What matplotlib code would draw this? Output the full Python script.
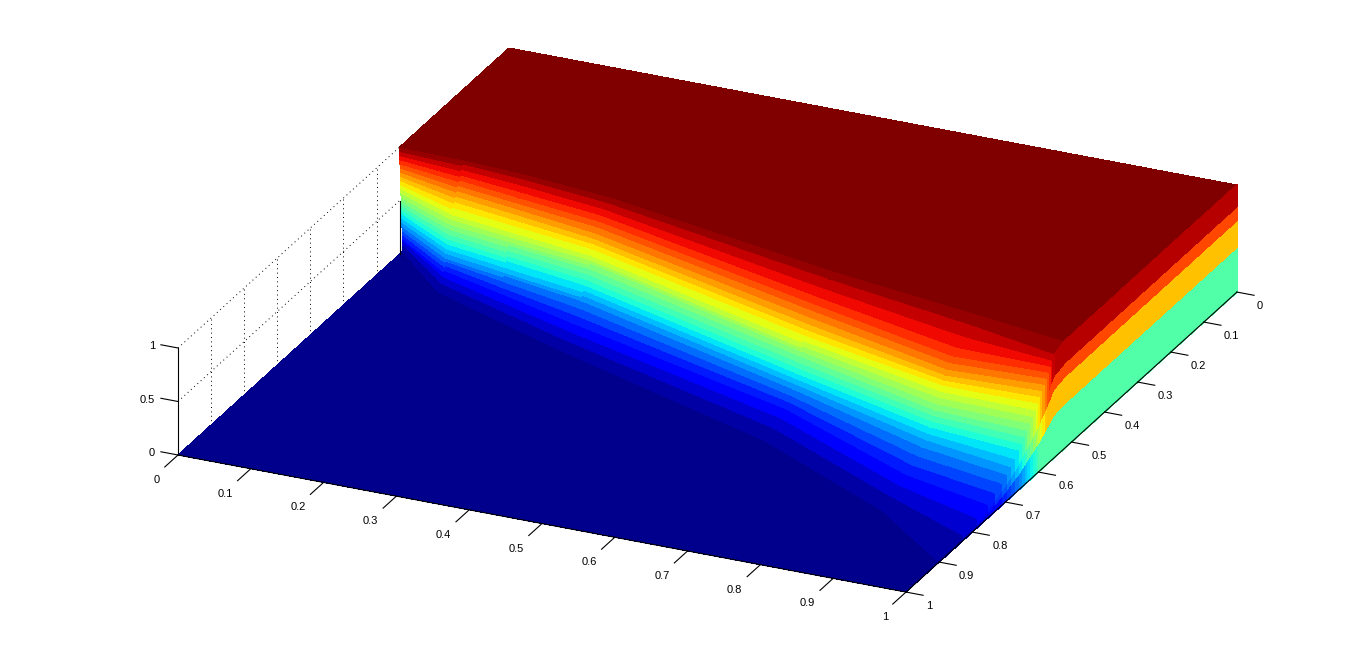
import numpy as np
import matplotlib
matplotlib.use("Agg")
import matplotlib.pyplot as plt
from mpl_toolkits.mplot3d import proj3d

plt.rcParams['font.family'] = ['Liberation Sans', 'DejaVu Sans']

# heights of the contour rows, and the y position of each one read at several x stations
levels = [0, .04, .08, .12, .16, .2, .24, .28, .32, .36, .4, .44, .48,
          .52, .56, .6, .64, .68, .72, .76, .8, .84, .88, .92, .96, 1]
stations = [0, .09, .18, .3, .65, .87, 1]
y_x000 = [.320, .3204, .3208, .3212, .3216, .322, .3224, .3228, .3232, .3236, .324, .3244, .3248,
          .3252, .3256, .326, .3264, .3268, .3272, .3276, .328, .3284, .3288, .3292, .3296, .33]
y_x009 = [.413, .405, .398, .392, .39, .389, .388, .386, .385, .383, .381, .379, .377,
          .375, .372, .37, .367, .362, .358, .354, .351, .347, .344, .34, .336, .332]
y_x018 = [.455, .444, .434, .425, .42, .415, .41, .408, .406, .403, .401, .398, .395,
          .392, .39, .388, .385, .381, .377, .373, .369, .365, .36, .353, .347, .34]
y_x030 = [.51, .496, .482, .47, .459, .449, .44, .436, .433, .43, .426, .422, .418,
          .414, .412, .411, .409, .406, .403, .399, .393, .388, .382, .375, .367, .358]
y_x065 = [.655, .632, .612, .596, .587, .58, .573, .569, .566, .563, .559, .555, .55,
          .547, .544, .541, .537, .532, .527, .52, .512, .505, .495, .48, .463, .447]
y_x087 = [.786, .76, .736, .715, .697, .681, .666, .656, .649, .642, .637, .632, .628,
          .622, .615, .609, .603, .60, .597, .592, .584, .576, .562, .54, .516, .492]
y_x100 = [.90, .83, .787, .755, .732, .713, .698, .686, .674, .66, .652, .644, .636,
          .627, .619, .611, .603, .596, .59, .583, .577, .571, .565, .56, .553, .52]

# bands of the wall at x = 1: share of the local height, colour cap and colour slope
wall_fracs = [0, .42, .67, .8, 1]
wall_caps = [.44, .70, .83, .95]
wall_slopes = [.66, .89, 1, 1]

x_ticks = [0, .1, .2, .3, .4, .5, .6, .7, .8, .9, 1]
y_ticks = [0, .1, .2, .3, .4, .5, .6, .7, .8, .9, 1]
z_ticks = [0, .5, 1]
grid_y = [.4, .5, .6, .7, .8, .9]

W, H = 1366, 664
fig = plt.figure(figsize=(W / 100, H / 100), dpi=100, facecolor='white')
side = W / H
ax = fig.add_axes([0, (1 - side) / 2, 1, side], projection='3d', computed_zorder=False)
ax.set_proj_type('ortho')
ax.view_init(elev=24.4, azim=-65.5)
ax.set_xlim(0, 1)
ax.set_ylim(1, 0)
ax.set_zlim(0, 1)
ax.set_axis_off()
ax.set_box_aspect((800, 798, 117.5), zoom=1)


def to_pixels(px, py, pz):
    a, b, _ = proj3d.proj_transform(px, py, pz, ax.get_proj())
    return ax.transData.transform((a, b))


def jet_at(v):
    # matlab's jet starts a little brighter than matplotlib's
    return plt.get_cmap('jet')(.014 + .986 * np.asarray(v))


# fit the box on the pixel corners of the reference
fig.canvas.draw()
p0 = to_pixels(0, 1, 0)
p1 = to_pixels(1, 1, 0)
ax.set_box_aspect((800, 798, 117.5), zoom=728 / (p1[0] - p0[0]))
fig.canvas.draw()
p0 = to_pixels(0, 1, 0)
pos = ax.get_position(original=True)
ax.set_position([pos.x0 + (178 - p0[0]) / W, pos.y0 + ((H - 455) - p0[1]) / H, pos.width, pos.height])
fig.canvas.draw()

table = np.array([y_x000, y_x009, y_x018, y_x030, y_x065, y_x087, y_x100]).T
xs = np.array(stations)
zs = np.array(levels)
X = np.tile(xs, (len(zs), 1))
Z = np.tile(zs[:, None], (1, len(xs)))

# floor
fy = np.vstack([table[0], np.ones(len(xs))])
fx = np.tile(xs, (2, 1))
ax.plot_surface(fx, fy, np.zeros_like(fx), color=jet_at(0.0), shade=False, linewidth=0.4,
                antialiased=False, zorder=2)

# rising front
mids = (zs[:-1] + zs[1:]) / 2
cols = jet_at(np.tile(mids[:, None], (1, len(xs) - 1)))
ax.plot_surface(X, table, Z, facecolors=cols, shade=False, linewidth=0.4,
                antialiased=False, rcount=100, ccount=100, zorder=3)

# flat top
ty = np.vstack([np.zeros(len(xs)), table[-1]])
ax.plot_surface(fx, ty, np.ones_like(fx), color=jet_at(1.0), shade=False, linewidth=0.4,
                antialiased=False, zorder=4)

# wall along x = 1
wall_y = np.append(0, y_x100[::-1])
wall_h = np.append(1, levels[::-1])
wy = np.tile(wall_y[:, None], (1, len(wall_fracs)))
wz = np.outer(wall_h, wall_fracs)
wh = (wall_h[:-1] + wall_h[1:]) / 2
wc = np.zeros((len(wh), len(wall_caps)))
for j in range(len(wall_caps)):
    wc[:, j] = np.minimum(wh * wall_slopes[j], wall_caps[j])
ax.plot_surface(np.ones_like(wy), wy, wz, facecolors=jet_at(wc), shade=False, linewidth=0.4,
                antialiased=False, rcount=100, ccount=100, zorder=5)

# dotted grid on the back wall
dots = (0, (1, 3.5))
for g in grid_y:
    ax.plot([0, 0], [g, g], [0, 1], color='k', lw=0.7, ls=dots, zorder=1)
for zt in z_ticks[1:]:
    ax.plot([0, 0], [1, .33], [zt, zt], color='k', lw=0.7, ls=dots, zorder=1)
ax.plot([0, 0], [.33, .33], [0, .5], color='k', lw=0.8, zorder=6)

# axes, ticks and labels
ax.plot([0, 0], [1, 1], [0, 1], color='k', lw=0.8, zorder=6)
ax.plot([0, 1], [1, 1], [0, 0], color='k', lw=0.8, zorder=6)
ax.plot([1, 1], [0, 1], [0, 0], color='k', lw=0.8, zorder=6)
for t in x_ticks:
    ax.plot([t, t], [1, 1.04], [0, 0], color='k', lw=0.8, zorder=6)
    a = to_pixels(t, 1, 0)
    fig.text((a[0] - 18) / W, (a[1] - 25) / H, '%g' % t, fontsize=8, ha='right', va='center')
for t in y_ticks:
    ax.plot([1, 1.0235], [t, t], [0, 0], color='k', lw=0.8, zorder=6)
    a = to_pixels(1, t, 0)
    fig.text((a[0] + 20) / W, (a[1] - 14) / H, '%g' % t, fontsize=8, ha='left', va='center')
for t in z_ticks:
    ax.plot([-.0235, 0], [1, 1], [t, t], color='k', lw=0.8, zorder=6)
    a = to_pixels(0, 1, t)
    fig.text((a[0] - 23) / W, (a[1] + 1.5) / H, '%g' % t, fontsize=8, ha='right', va='center')

fig.savefig('out.png', dpi=100)
